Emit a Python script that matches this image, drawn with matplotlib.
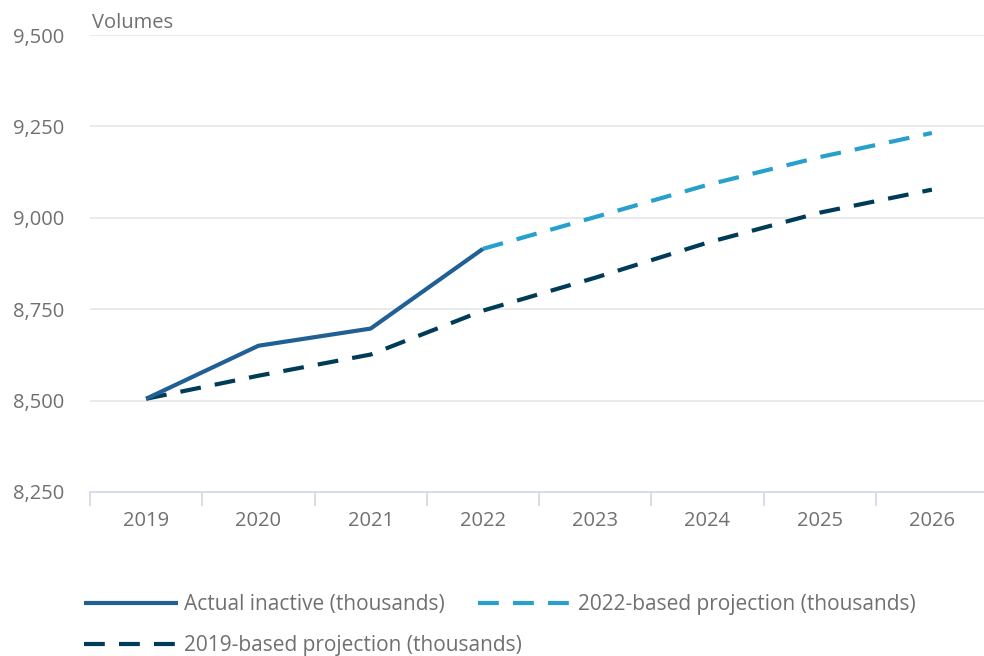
import matplotlib
matplotlib.use("Agg")
import matplotlib.pyplot as plt
from matplotlib.ticker import FixedLocator, FuncFormatter

plt.rcParams['font.family'] = ['Open Sans', 'DejaVu Sans']

years = ["2019", "2020", "2021", "2022", "2023", "2024", "2025", "2026"]
actual = [8505, 8650, 8697, 8915]               # 2019-2022
proj_2022 = [8915, 9002, 9090, 9166, 9232]      # 2022-2026
proj_2019 = [8505, 8568, 8626, 8746, 8836, 8932, 9014, 9077]  # 2019-2026

y_ticks = [8250, 8500, 8750, 9000, 9250, 9500]

TEXT = "#707070"
GRID = "#e6e6e6"
AXIS = "#cfd8e8"
C_ACTUAL = "#206095"
C_2022 = "#27a0cc"
C_2019 = "#003c57"
FS = 14.5
FS_LEG = 15

fig = plt.figure(figsize=(9.84, 6.56), dpi=100)
ax = fig.add_axes([90 / 984, 1 - 492 / 656, 898 / 984, 457 / 656])

x_all = list(range(len(years)))
ax.set_xlim(-0.5, len(years) - 0.5)
ax.set_ylim(y_ticks[0], y_ticks[-1])

lw = 3.0
dash = (5.0, 3.4)
l_act, = ax.plot(x_all[:4], actual, color=C_ACTUAL, lw=lw, solid_capstyle='butt',
                 solid_joinstyle='round', zorder=4, label="Actual inactive (thousands)")
l_22, = ax.plot(x_all[3:], proj_2022, color=C_2022, lw=lw, dashes=dash,
                dash_capstyle='butt', zorder=3, label="2022-based projection (thousands)")
l_19, = ax.plot(x_all, proj_2019, color=C_2019, lw=lw, dashes=dash,
                dash_capstyle='butt', zorder=3, label="2019-based projection (thousands)")

# gridlines
for v in y_ticks[1:]:
    ax.axhline(v, color=GRID, lw=1.2, zorder=1)

for s in ["top", "right", "left"]:
    ax.spines[s].set_visible(False)
ax.spines["bottom"].set_color(AXIS)
ax.spines["bottom"].set_linewidth(1.2)

ax.yaxis.set_major_locator(FixedLocator(y_ticks))
ax.yaxis.set_major_formatter(FuncFormatter(lambda v, p: f"{int(v):,}"))
ax.tick_params(axis="y", length=0, pad=18.7, labelsize=FS, labelcolor=TEXT)

ax.set_xticks(x_all)
ax.set_xticklabels(years)
ax.set_xticks([i - 0.5 for i in range(len(years) + 1)], minor=True)
ax.tick_params(axis="x", which="major", length=0, pad=14, labelsize=FS, labelcolor=TEXT)
ax.tick_params(axis="x", which="minor", length=10, width=1.2, color=AXIS, direction="out")

ax.text(0.002, 1.005, "Volumes", transform=ax.transAxes, ha="left", va="bottom",
        fontsize=FS, color=TEXT)

# legend laid out as flowing rows
leg_kw = dict(loc="upper left", frameon=False, fontsize=FS_LEG, handlelength=4.5,
              handletextpad=0.3, columnspacing=1.6, borderaxespad=0, borderpad=0)
leg1 = fig.legend([l_act, l_22], [l_act.get_label(), l_22.get_label()], ncol=2,
                  bbox_to_anchor=(84 / 984, 1 - 594 / 656), **leg_kw)
leg2 = fig.legend([l_19], [l_19.get_label()], ncol=1,
                  bbox_to_anchor=(84 / 984, 1 - 635 / 656), **leg_kw)
for leg in (leg1, leg2):
    for t in leg.get_texts():
        t.set_color(TEXT)

fig.savefig("out.png", dpi=100)
